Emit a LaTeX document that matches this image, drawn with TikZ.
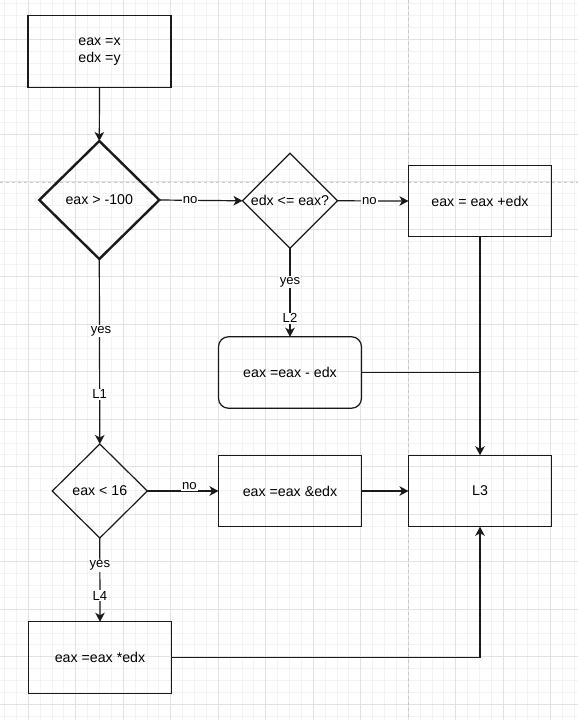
\documentclass[tikz,border=0pt]{standalone}
\usepackage{fontspec}
\setmainfont{Liberation Sans}
\usetikzlibrary{shapes.geometric,arrows.meta}
\definecolor{minorgrid}{HTML}{F3F3F3}
\definecolor{majorgrid}{HTML}{E2E2E2}
\definecolor{pagebreak}{HTML}{C8C8C8}
\definecolor{ink}{HTML}{1A1A1A}
\tikzset{
  boxstyle/.style={draw=ink, line width=1.2pt, rectangle, minimum width=143pt, minimum height=71.5pt, inner sep=0pt, outer sep=0pt, align=center, font=\fontsize{14.2}{17}\selectfont, text=black},
  roundbox/.style={boxstyle, rounded corners=10pt},
  decision/.style={draw=ink, line width=1.2pt, diamond, inner sep=0pt, outer sep=0pt, align=center, font=\fontsize{14.2}{17}\selectfont, text=black},
  flow/.style={draw=ink, line width=1.2pt, -{Stealth[length=9pt,width=9.5pt,inset=2.5pt]}},
  plain/.style={draw=ink, line width=1.2pt},
  edgelabel/.style={fill=white, inner sep=1pt, font=\fontsize{13.1}{15}\selectfont, text=black},
}
\begin{document}
\begin{tikzpicture}[x=1pt, y=-1pt]
\useasboundingbox (0,0) rectangle (578,720);
\fill[white] (0,0) rectangle (578,720);
% grid
\foreach \i in {0,...,48} {\draw[minorgrid, line width=0.9pt] ({4.55+11.875*\i},0) -- ++(0,720);}
\foreach \i in {0,...,60} {\draw[minorgrid, line width=0.9pt] (0,{3.675+11.875*\i}) -- ++(578,0);}
\foreach \i in {0,...,12} {\draw[majorgrid, line width=0.9pt] ({-19.2+47.5*\i},0) -- ++(0,720);}
\foreach \i in {0,...,15} {\draw[majorgrid, line width=0.9pt] (0,{-8.2+47.5*\i}) -- ++(578,0);}
\draw[pagebreak, line width=1.2pt, dash pattern=on 3pt off 3pt] (408.5,0) -- (408.5,720);
\draw[pagebreak, line width=1.2pt, dash pattern=on 3pt off 3pt] (0,182.5) -- (578,182.5);

% nodes
\node[boxstyle] (init) at (99.5,51.5) {eax =x\\edx =y};
\node[decision, line width=2.4pt, minimum width=120pt, minimum height=118pt] (d1) at (99.3,200) {eax > -100};
\node[decision, minimum width=95pt, minimum height=95pt] (d2) at (290,200.8) {edx <= eax?};
\node[boxstyle] (add) at (480,201) {eax = eax +edx};
\node[roundbox] (sub) at (290,372.5) {eax =eax - edx};
\node[decision, minimum width=95pt, minimum height=94pt] (d4) at (99.8,491) {eax < 16};
\node[boxstyle] (and) at (290,491) {eax =eax \&edx};
\node[boxstyle] (l3) at (480,491) {L3};
\node[boxstyle] (mul) at (100,657.5) {eax =eax *edx};

% connectors
\draw[flow] (init.south) -- (d1.north);
\draw[flow] (d1.east) -- node[edgelabel, pos=0.37] {no} (d2.west);
\draw[flow] (d2.east) -- node[edgelabel, pos=0.45] {no} (add.west);
\draw[flow] (d2.south) -- node[edgelabel, pos=0.38] {yes} node[edgelabel, pos=0.79] {L2} (sub.north);
\draw[flow] (d1.south) -- node[edgelabel, pos=0.39, xshift=1.5pt] {yes} node[edgelabel, pos=0.73] {L1} (d4.north);
\draw[flow] (d4.east) -- node[edgelabel, pos=0.59, yshift=5pt] {no} (and.west);
\draw[flow] (d4.south) -- node[edgelabel, pos=0.33] {yes} node[edgelabel, pos=0.69] {L4} (mul.north);
\draw[flow] (and.east) -- (l3.west);
\draw[flow] (add.south) -- (l3.north);
\coordinate (join) at (add.south |- sub.east);
\draw[plain] (sub.east) -- (join);
\draw[flow] (mul.east) -| (l3.south);
\end{tikzpicture}
\end{document}
